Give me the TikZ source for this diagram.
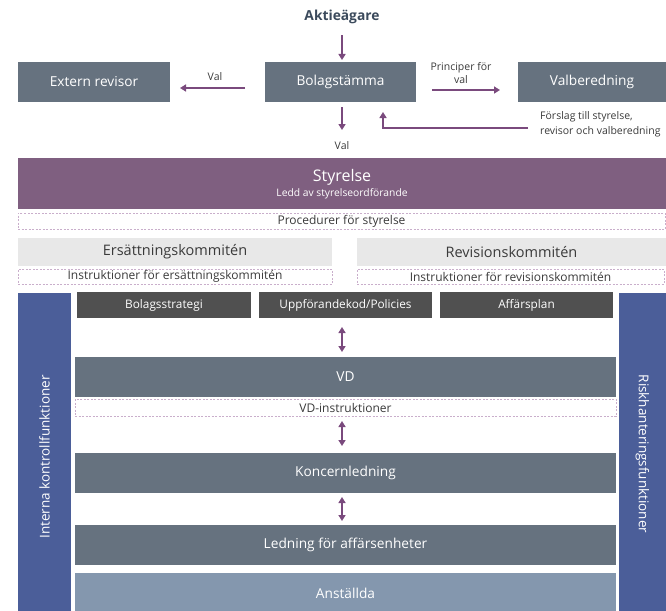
\documentclass[tikz,border=0pt]{standalone}
\usepackage{fontspec}
\setmainfont{Open Sans}
\usetikzlibrary{arrows.meta}
\definecolor{slate}{HTML}{66727F}
\definecolor{plum}{HTML}{7F5F80}
\definecolor{barblue}{HTML}{4B5E99}
\definecolor{darkbox}{HTML}{505050}
\definecolor{lightbox}{HTML}{E8E8E8}
\definecolor{staff}{HTML}{8497AE}
\definecolor{arrowc}{HTML}{7A4A7D}
\definecolor{headc}{HTML}{3B4A5C}
\definecolor{dashc}{HTML}{C9AECB}
\definecolor{txtdark}{HTML}{3A3A3A}
\newcommand{\fs}[1]{\fontsize{#1}{#1}\selectfont}
\begin{document}
\begin{tikzpicture}[x=1pt,y=-1pt,
  box/.style={inner sep=0pt, outer sep=0pt, anchor=center},
  slatebox/.style={box, fill=slate, text=white, font=\fs{13.7}},
  darkboxs/.style={box, fill=darkbox, text=white, font=\fs{11.8}, minimum height=26pt},
  greybox/.style={box, fill=lightbox, text=txtdark, font=\fs{14.5}, minimum height=28pt},
  dashbox/.style={box, draw=dashc, dashed, dash pattern=on 2pt off 1.5pt, line width=0.8pt, text=txtdark, font=\fs{12}},
  bar/.style={box, fill=barblue},
  arr/.style={draw=arrowc, line width=1.6pt, -{Triangle[length=6pt,width=7pt]}},
  darr/.style={draw=arrowc, line width=1.6pt, {Triangle[length=6pt,width=7pt]}-{Triangle[length=6pt,width=7pt]}},
  lbl/.style={inner sep=0pt, text=txtdark, font=\fs{10.5}}
]
\useasboundingbox (0,0) rectangle (666,610);

% top row
\node[inner sep=0pt, text=headc, font=\fs{13.8}\bfseries] (akt) at (342,17) {Aktieägare};
\node[slatebox, minimum width=151pt, minimum height=40pt] (bol) at (340.5,82) {Bolagstämma};
\node[slatebox, minimum width=152pt, minimum height=40pt] (ext) at (94,82) {Extern revisor};
\node[slatebox, minimum width=148pt, minimum height=40pt] (valb) at (592,82) {Valberedning};

\draw[arr, shorten <=11pt, shorten >=2pt] (akt.south) -- (bol.north -| akt.south);
\draw[arr, shorten <=20pt, shorten >=10pt] ([yshift=-6pt]bol.west) -- ([yshift=-6pt]ext.east);
\node[lbl] (lval1) at (215,77) {Val};
\draw[arr, shorten <=16pt, shorten >=18pt] ([yshift=-8pt]bol.east) -- ([yshift=-8pt]valb.west);
\node[lbl, align=center, font=\fs{10.5}\linespread{1.25}\selectfont] (lprin) at (461,73) {Principer för\\val};

% Styrelse
\node[box, fill=plum, text=white, minimum width=648pt, minimum height=51pt] (sty) at (342,183.5) {};
\node[inner sep=0pt, text=white, font=\fs{16}] (styt) at (342,177.5) {Styrelse};
\node[inner sep=0pt, text=white, font=\fs{10.3}] (stys) at (342,193.5) {Ledd av styrelseordförande};

\draw[arr, shorten <=5pt, shorten >=28pt] (bol.south -| akt.south) -- (sty.north -| akt.south);
\node[lbl] (lval2) at (342,146) {Val};

\coordinate (fstart) at (528,128);
\coordinate (fend) at (383,112);
\draw[arr] (fstart) -| (fend);
\node[lbl, anchor=west, align=left, font=\fs{10.5}\linespread{1.45}\selectfont] (forsl) at (540,124) {Förslag till styrelse,\\revisor och valberedning};

\node[dashbox, minimum width=647pt, minimum height=16pt] (proc) at (341.5,221) {Procedurer för styrelse};

\node[greybox, minimum width=314pt] (ers) at (175,252) {Ersättningskommitén};
\node[greybox, minimum width=309pt] (rev) at (511.5,252) {Revisionskommitén};
\node[dashbox, minimum width=314pt, minimum height=15pt] (iers) at (175,276.5) {Instruktioner för ersättningskommitén};
\node[dashbox, minimum width=307pt, minimum height=15pt] (irev) at (510.5,276.5) {Instruktioner för revisionskommitén};

% side bars
\node[bar, minimum width=53pt, minimum height=318pt] (lbar) at (44.5,452) {};
\node[rotate=90, text=white, font=\fs{13.5}, inner sep=0pt] (lbart) at (44.5,457) {Interna kontrollfunktioner};
\node[bar, minimum width=47pt, minimum height=318pt] (rbar) at (642.5,452) {};
\node[rotate=-90, text=white, font=\fs{13.5}, inner sep=0pt] (rbart) at (642.5,454) {Riskhanteringsfunktioner};

% dark row
\node[darkboxs, minimum width=174pt] (strat) at (164,305) {Bolagsstrategi};
\node[darkboxs, minimum width=173pt] (upp) at (345.5,305) {Uppförandekod/Policies};
\node[darkboxs, minimum width=173pt] (aff) at (526.5,305) {Affärsplan};

% management chain
\node[slatebox, minimum width=541pt, minimum height=40pt] (vd) at (345.5,377) {VD};
\node[dashbox, minimum width=541pt, minimum height=17pt] (vdi) at (345.5,407.5) {VD-instruktioner};
\node[slatebox, minimum width=541pt, minimum height=40pt] (kon) at (345.5,473) {Koncernledning};
\node[slatebox, minimum width=541pt, minimum height=40pt] (led) at (345.5,545) {Ledning för affärsenheter};
\node[box, fill=staff, text=white, font=\fs{13.7}, minimum width=541pt, minimum height=40pt] (ans) at (345.5,593) {Anställda};

\draw[darr, shorten <=9pt, shorten >=5pt] (upp.south -| akt.south) -- (vd.north -| akt.south);
\draw[darr, shorten <=5pt, shorten >=7pt] (vdi.south -| akt.south) -- (kon.north -| akt.south);
\draw[darr, shorten <=4pt, shorten >=4pt] (kon.south -| akt.south) -- (led.north -| akt.south);
\end{tikzpicture}
\end{document}
